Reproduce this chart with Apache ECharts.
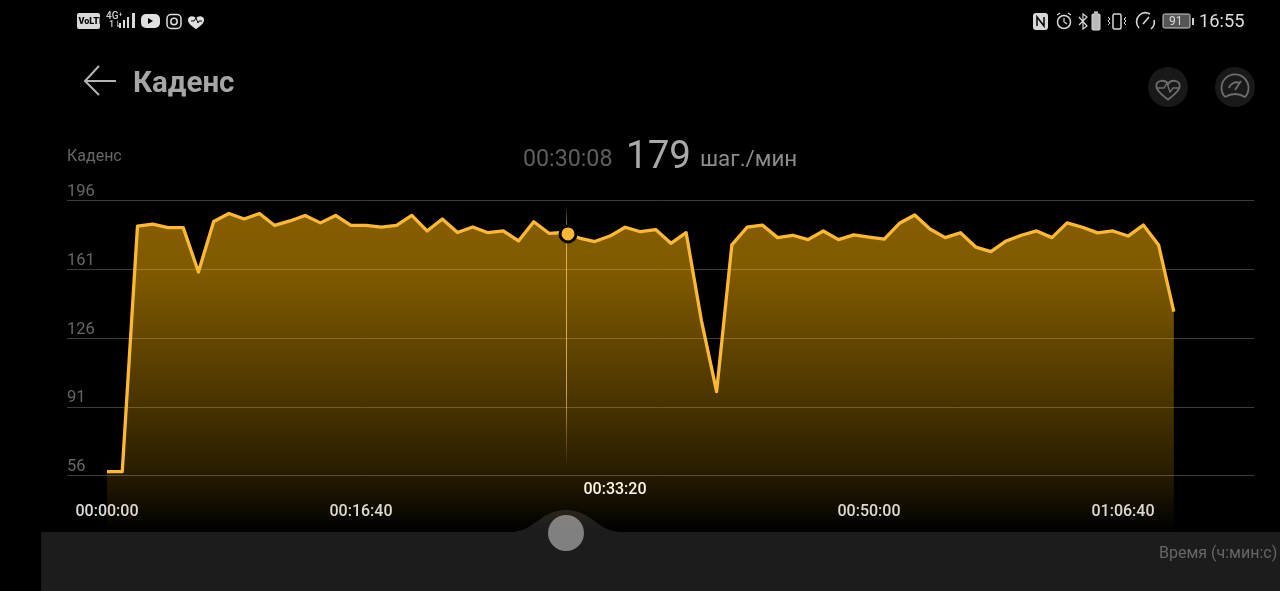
<!DOCTYPE html>
<html><head><meta charset="utf-8">
<style>html,body{margin:0;padding:0;background:#000;overflow:hidden}#c{width:1280px;height:591px}</style>
<script src="https://cdn.jsdelivr.net/npm/echarts@6/dist/echarts.min.js"></script>
</head><body><div id="c"></div>
<script>
const minutes = [0,1,2,3,4,5,6,7,8,9,10,11,12,13,14,15,16,17,18,19,20,21,22,23,24,25,26,27,28,29,30,31,32,33,34,35,36,37,38,39,40,41,42,43,44,45,46,47,48,49,50,51,52,53,54,55,56,57,58,59,60,61,62,63,64,65,66,67,68,69,70];
const cadence = [58,58,183,184,182.2,182.2,159.6,185.3,189.4,186.6,189.4,183.3,185.6,188.4,184.6,188.4,183.3,183.3,182.5,183.3,188.4,180.5,186.6,179.7,182.5,179.6,180.5,175.4,185.2,179.3,179.7,176.9,175.1,177.9,182.4,180.1,181.2,174.2,179.6,135,98.7,173.4,182.4,183.5,177.1,178.3,176.1,180.5,176.1,178.5,177.4,176.3,184.4,188.6,181.5,177.1,179.6,172.3,170,175.4,178.3,180.5,177.1,184.6,182.4,179.5,180.5,177.9,183.5,173.4,139.4];
const xTickSeconds = [0,1000,2000,3000,4000];
const selectedTick = 2000;
const cursorSeconds = 1808;
const cursorMarkSeconds = 1815;
const cursorValue = 179;
const cursorTime = '00:30:08';
const unitText = 'шаг./мин';
const titleText = 'Каденс';
const xAxisTitle = 'Время (ч:мин:с)';

const pad = n => String(n).padStart(2,'0');
const hms = s => pad(Math.floor(s/3600))+':'+pad(Math.floor(s%3600/60))+':'+pad(s%60);
const lineData = minutes.map((m,i)=>[m*60,cadence[i]]);
const F='Roboto, sans-serif';
let pathCount=0;
const txt=(x,y,t,size,fill,weight)=>({type:'text',x,y,style:{text:t,fontSize:size,fontFamily:F,fontWeight:weight||400,fill,verticalAlign:'middle'}});
const pth=(d,fill,st,w)=>{const name='chromePath'+(pathCount++);echarts.graphic.registerShape(name,echarts.graphic.extendPath(d,{}));return {type:name,style:{fill:fill||'none',stroke:st||null,lineWidth:w||1}};};
const rect=(x,y,w,h,r,fill,st,lw)=>({type:'rect',shape:{x,y,width:w,height:h,r},style:{fill:fill||'none',stroke:st||null,lineWidth:lw||1}});
const circ=(cx,cy,r,fill,st,lw)=>({type:'circle',shape:{cx,cy,r},style:{fill:fill||'none',stroke:st||null,lineWidth:lw||1}});
const heart='M0 -3 C-3 -9 -13 -8 -13 -1 C-13 5 -5 10 0 14 C5 10 13 5 13 -1 C13 -8 3 -9 0 -3 Z';
const chrome=[
 pth('M41 532 L510 532 C535 532 540 510 566 510 C592 510 597 532 622 532 L1280 532 L1280 591 L41 591 Z','#1c1c1c'),
 circ(566,533,18,'#808080'),
 txt(1159,554,xAxisTitle,16,'#666',400),
 rect(77,13,23,16,2,'#d8d8d8'),
 txt(78.5,21.5,'VoLTE',9,'#000',900),
 txt(106,16,'4G⁺',10,'#d0d0d0',500),
 txt(109,25,'1⇂',9,'#d0d0d0',500),
 rect(119,23,2,5,0,'#d8d8d8'),rect(123,20,2,8,0,'#d8d8d8'),rect(127,17,2,11,0,'#d8d8d8'),rect(132,13,3,15,0,'#d8d8d8'),
 rect(141,14,19,14,5,'#e0e0e0'),
 pth('M148 18 L148 24 L153 21 Z','#000'),
 rect(167,14.5,14,14,4,'none','#e0e0e0',1.5),circ(174,21.5,3.2,'none','#e0e0e0',1.5),
 Object.assign(pth(heart,'#e0e0e0'),{x:196,y:20.5,scaleX:.62,scaleY:.62}),
 pth('M191 21 L194 21 L196 18 L198 23 L199 21 L202 21','none','#000',1),
 pth('M116 81 L85 81 M99 66 L85 81 L99 95','none','#b4b4b4',2),
 txt(133,85,titleText,29.5,'#a6a6a6',700),
 rect(1033,13,15,17,3,'#d8d8d8'),pth('M1037 26 L1037 17 L1044 26 L1044 17','none','#000',1.5),
 circ(1064,22,6.5,'none','#d8d8d8',1.5),pth('M1064 18 L1064 22 L1067 24 M1057 15 L1060 13 M1071 15 L1068 13','none','#d8d8d8',1.2),
 pth('M1079 17 L1087 26 L1083 29 L1083 14 L1087 17 L1079 25','none','#d8d8d8',1.2),
 rect(1092,14,8,16,1,'#b8b8b8','#d8d8d8',1),rect(1094,11.5,4,2,0,'#d8d8d8'),
 rect(1113,14,8,15,1.5,'none','#d8d8d8',1.5),
 pth('M1108 17 L1110 19 L1108 21 L1110 23 L1108 25 M1126 17 L1124 19 L1126 21 L1124 23 L1126 25','none','#d8d8d8',1),
 pth('M1139 28 A9 9 0 0 1 1150 14 M1154 20 A9 9 0 0 1 1151 29 M1143 24 L1149 17','none','#d8d8d8',1.6),
 rect(1163,14,27,14,1.5,'#555','#d0d0d0',1),
 txt(1169,21.5,'91',12,'#d8d8d8',400),
 rect(1192,18,2,7,0,'#d0d0d0'),
 txt(1199,22,'16:55',18.3,'#dedede',400),
 circ(1168,87,20,'#191919'),
 Object.assign(pth(heart,'none','#6e6e6e',2),{x:1168,y:87,scaleX:.9,scaleY:.9}),
 pth('M1157 88 L1164 88 L1167 83 L1170 92 L1173 88 L1179 88','none','#6e6e6e',1.4),
 circ(1235,87,20,'#191919'),
 pth('M1225 97 A13.5 13.5 0 1 1 1245 97 Q1235 91 1225 97 M1229 88 A8 8 0 0 1 1240 83 M1235 90 L1241 81','none','#6e6e6e',1.8),
 txt(523,160,cursorTime,23.2,'#5f5f5f',400),
 txt(626,158,String(cursorValue),38.5,'#a9a9a9',400),
 txt(700,160,unitText,22.4,'#8c8c8c',400)
];

const option={
 backgroundColor:'#000',animation:false,
 grid:{left:67,right:26,top:200.5,bottom:115.5},
 xAxis:{type:'value',min:-157.5,max:4515.7,splitLine:{show:false},axisLine:{show:false},axisTick:{show:false},
  axisLabel:{customValues:xTickSeconds,margin:3,hideOverlap:false,verticalAlign:'top',fontFamily:F,
   formatter:v=>v===selectedTick?'{sel|'+hms(v)+'}\n{gap| }':'{gap| }\n{norm|'+hms(v)+'}',
   rich:{sel:{color:'#fff',fontSize:16,fontFamily:F,fontWeight:500,lineHeight:22},
         norm:{color:'#dcdcdc',fontSize:16,fontFamily:F,fontWeight:500,lineHeight:22},
         gap:{fontSize:16,lineHeight:22}}}},
 yAxis:{type:'value',min:56,max:196,interval:35,axisLine:{show:false,onZero:false},axisTick:{show:false},
  name:titleText,nameLocation:'end',nameGap:36,
  nameTextStyle:{color:'#666',fontSize:16,fontFamily:F,align:'left'},
  axisLabel:{inside:true,margin:0,verticalAlign:'bottom',color:'#666',fontSize:16.5,fontFamily:F},
  splitLine:{lineStyle:{color:'#3c3c3c',width:1}}},
 series:[
  {type:'line',data:lineData,symbol:'none',clip:false,z:3,
   lineStyle:{color:'#fdb933',width:3.3,join:'round'},
   areaStyle:{opacity:1,origin:27.7,color:{type:'linear',x:0,y:0,x2:0,y2:1,colorStops:[
     {offset:0,color:'rgba(255,180,0,0.52)'},{offset:.18,color:'rgba(255,180,0,0.5)'},{offset:.32,color:'rgba(255,180,0,0.43)'},
     {offset:.59,color:'rgba(255,180,0,0.29)'},{offset:.81,color:'rgba(255,180,0,0.165)'},{offset:1,color:'rgba(255,180,0,0)'}]}},
   markLine:{silent:true,symbol:'none',label:{show:false},animation:false,
    lineStyle:{type:'solid',width:1,color:{type:'linear',x:0,y:205,x2:0,y2:468,global:true,colorStops:[{offset:0,color:'rgba(255,200,90,0)'},{offset:.1,color:'rgba(255,200,90,.75)'},{offset:.7,color:'rgba(255,200,90,.75)'},{offset:1,color:'rgba(255,200,90,0)'}]}},
    data:[[{coord:[cursorSeconds,193.6]},{coord:[cursorSeconds,60]}]]}},
  {type:'scatter',data:[[cursorMarkSeconds,cursorValue]],symbol:'circle',symbolSize:16,z:5,
   itemStyle:{color:'#fdb933',borderColor:'#000',borderWidth:3,opacity:1}}
 ],
 graphic:{elements:chrome}
};
echarts.init(document.getElementById('c'),null,{renderer:'canvas'}).setOption(option);
</script></body></html>
